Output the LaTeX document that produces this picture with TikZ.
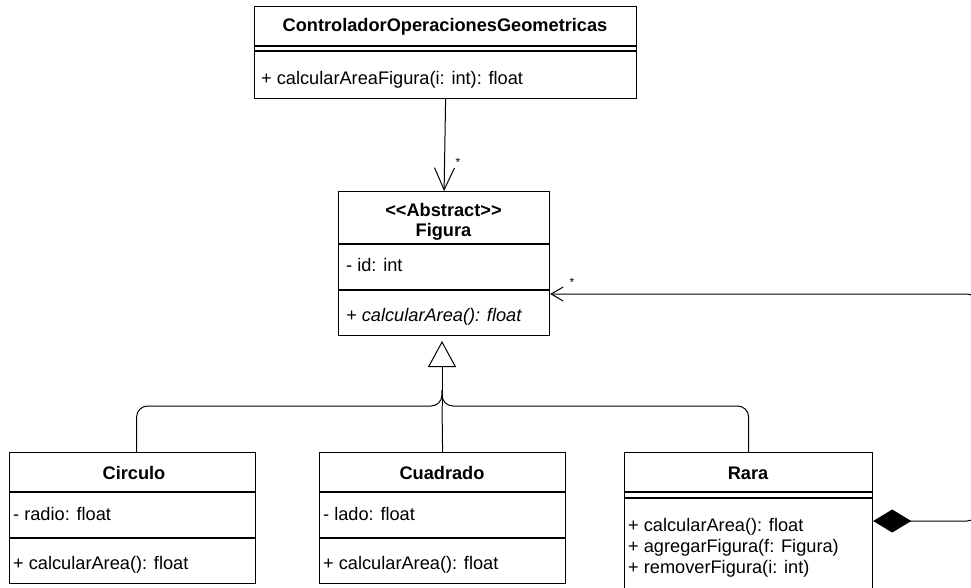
\documentclass[tikz,border=0pt]{standalone}
\usepackage{fontspec}
\setmainfont{Liberation Sans}[Ligatures=TeXOff]
\usetikzlibrary{arrows.meta}
\tikzset{
  cls/.style={draw, line width=1.2pt, inner sep=0pt, anchor=north west, fill=white},
  sep/.style={line width=1.2pt},
  conn/.style={line width=1pt},
  ttl/.style={font=\fontsize{18.2}{20.5}\selectfont\bfseries, align=center, inner sep=0pt},
  mem/.style={font=\fontsize{18.2}{20}\selectfont, anchor=west, inner sep=0pt},
  mult/.style={font=\fontsize{12}{12}\selectfont, inner sep=0pt}
}
\begin{document}
\begin{tikzpicture}[x=1pt,y=-1pt]
\useasboundingbox (0,0) rectangle (971,588);
\clip (0,0) rectangle (971,588);
\fill[white] (0,0) rectangle (971,588);

% Controlador
\node[cls, minimum width=382pt, minimum height=92pt] (ctrl) at (254,6) {};
\draw[sep] (254,46) -- (636,46);
\draw[sep] (254,51) -- (636,51);
\node[ttl] (ctrlt) at (445,27) {ControladorOperacionesGeometricas};
\node[mem] (ctrlm) at (261,80) {+ calcularAreaFigura(i: int): float};

% Figura
\node[cls, minimum width=211pt, minimum height=144pt] (fig) at (338,191) {};
\draw[sep] (338,244) -- (549,244);
\draw[sep] (338,290) -- (549,290);
\node[ttl] (figt) at (443.5,222) {<<Abstract>>\\Figura};
\node[mem] (figa) at (346,265) {- id: int};
\node[mem] (figm) at (346,317) {\itshape + calcularArea(): float};

% Circulo
\node[cls, minimum width=246pt, minimum height=131pt] (circ) at (9,452) {};
\draw[sep] (9,492) -- (255,492);
\draw[sep] (9,538) -- (255,538);
\node[ttl] (circt) at (134,473) {Circulo};
\node[mem] (circa) at (13,514) {- radio: float};
\node[mem] (circm) at (13,565) {+ calcularArea(): float};

% Cuadrado
\node[cls, minimum width=246pt, minimum height=131pt] (cuad) at (319,452) {};
\draw[sep] (319,492) -- (565,492);
\draw[sep] (319,538) -- (565,538);
\node[ttl] (cuadt) at (442,473) {Cuadrado};
\node[mem] (cuada) at (323,514) {- lado: float};
\node[mem] (cuadm) at (323,565) {+ calcularArea(): float};

% Rara
\node[cls, minimum width=248pt, minimum height=160pt] (rara) at (624,452) {};
\draw[sep] (624,492) -- (872,492);
\draw[sep] (624,498) -- (872,498);
\node[ttl] (rarat) at (748,473) {Rara};
\node[mem] (raram1) at (628,527) {+ calcularArea(): float};
\node[mem] (raram2) at (628,548) {+ agregarFigura(f: Figura)};
\node[mem] (raram3) at (628,569) {+ removerFigura(i: int)};

% association Controlador -> Figura
\draw[conn, -{Straight Barb[length=22pt,width=20pt,line width=1pt]}] (ctrl.south) -- (fig.north);
\node[mult] (m1) at (458,162) {*};

% inheritance
\coordinate (j) at (442,406);
\coordinate (cn) at ([xshift=4pt]circ.north);
\draw[conn, -{Triangle[open,length=26pt,width=28pt,line width=1pt,fill=white]}, shorten >=6pt] (j) -- (442,335);
\draw[conn, rounded corners=11pt] (cn) |- (j) -- (442,390);
\draw[conn, rounded corners=11pt] (rara.north) |- (j) -- (442,390);
\draw[conn] (cuad.north) -- (j);

% composition Rara <>-> Figura
\coordinate (rr) at ([yshift=-69pt]rara.north east);
\coordinate (fe) at ([yshift=-103pt]fig.north east);
\coordinate (corner) at (978,294);
\draw[conn, rounded corners=11pt, {Diamond[length=38pt,width=23pt]}-{Straight Barb[length=12pt,width=14pt,line width=1pt]}] (rr) -| (corner) -- (fe);
\node[mult] (m2) at (572,282) {*};
\end{tikzpicture}
\end{document}
